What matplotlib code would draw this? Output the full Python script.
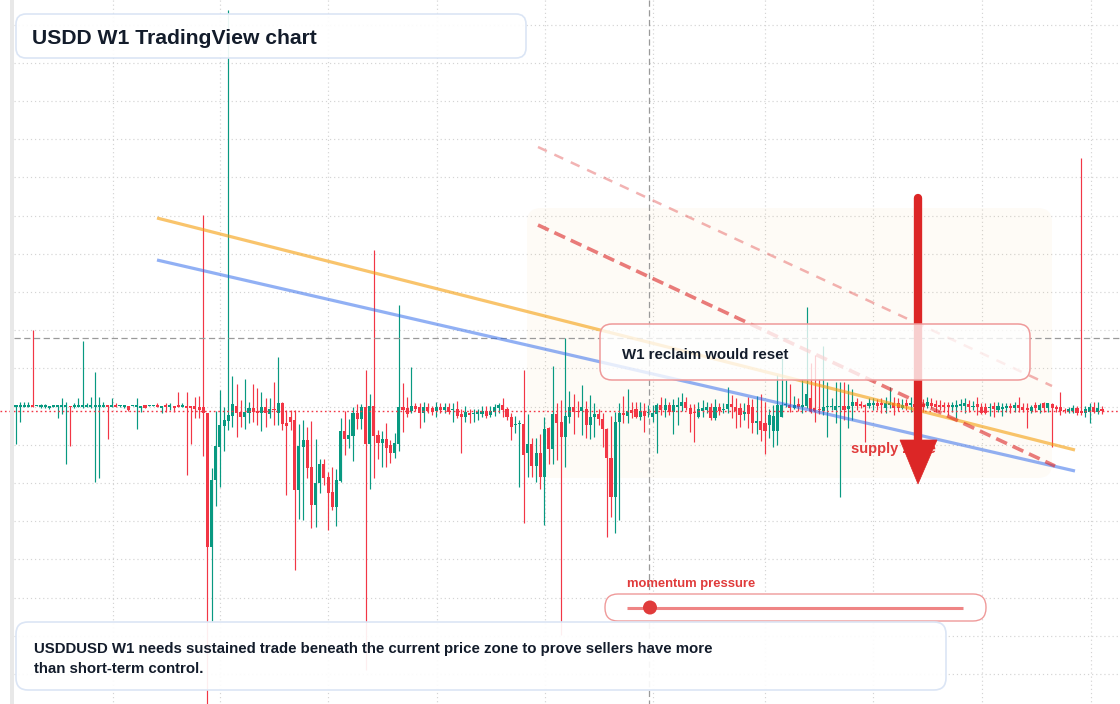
"""USDD weekly candles with the TradingView-style annotations on top."""

import numpy as np
import matplotlib
matplotlib.use("Agg")
from matplotlib import pyplot as plt
from matplotlib.patches import FancyBboxPatch, Rectangle, Polygon, Circle

plt.rcParams["font.family"] = ["Liberation Sans", "DejaVu Sans"]
plt.rcParams["lines.scale_dashes"] = False

# weekly OHLC, oldest first
opens = [
    .9999, .9999, .9999, .9999, 1.0001, 1.0000, .9999, .9999, .9998, .9999,
    .9999, .9999, .9999, 1.0000, .9999, .9999, .9999, .9999, .9999, .9999,
    .9999, .9999, 1.0001, .9999, 1.0001, 1.0000, .9999, 1.0000, 1.0000, .9999,
    .9998, 1.0001, 1.0000, 1.0000, 1.0001, .9998, 1.0001, .9999, 1.0000, 1.0001,
    .9999, 1.0000, 1.0000, 1.0000, .9999, .9999, .9993, .9859, .9926, .9959,
    .9980, .9985, .9990, 1.0000, .9994, .9989, .9993, .9998, .9995, .9993,
    .9999, .9992, .9997, .9993, 1.0003, .9983, .9989, .9986, .9916, .9959,
    .9966, .9939, .9901, .9923, .9942, .9929, .9914, .9899, .9925, .9975,
    .9967, .9970, .9993, .9987, .9999, .9962, 1.0000, .9971, .9963, .9967,
    .9961, .9953, .9962, .9999, .9998, .9995, 1.0000, .9999, .9993, .9999,
    .9998, .9995, .9999, .9996, .9999, .9996, .9997, .9992, .9989, .9993,
    .9992, .9992, .9992, .9995, .9991, .9994, .9998, 1.0001, .9997, .9989,
    .9981, .9982, .9982, .9953, .9962, .9940, .9953, .9929, .9978, .9957,
    .9992, .9984, .9969, .9989, .9999, .9995, .9995, .9997, .9981, .9989,
    .9992, .9987, .9977, .9948, .9909, .9984, .9993, .9990, .9996, .9997,
    .9989, .9995, .9993, .9989, .9992, 1.0001, .9996, 1.0001, .9994, .9999,
    1.0000, 1.0004, .9998, .9994, .9989, .9995, .9996, .9999, .9988, .9999,
    .9996, .9997, 1.0002, .9999, .9998, .9992, 1.0001, .9999, .9983, .9985,
    .9983, .9981, .9975, .9975, .9989, 1.0001, 1.0001, .9998, 1.0002, .9999,
    1.0000, 1.0008, .9998, .9997, .9995, .9999, .9999, .9996, .9999, 1.0000,
    .9997, 1.0000, 1.0004, 1.0002, 1.0001, 1.0000, 1.0001, 1.0003, 1.0003, .9998,
    1.0001, 1.0003, 1.0003, .9998, 1.0003, 1.0001, 1.0002, 1.0000, 1.0002, 1.0000,
    1.0003, 1.0002, 1.0001, 1.0001, 1.0001, .9999, .9999, 1.0000, 1.0000, 1.0002,
    .9999, 1.0002, .9999, .9999, .9998, 1.0000, .9996, .9997, .9998, 1.0000,
    .9998, 1.0001, .9999, .9998, .9995, 1.0001, .9996, 1.0003, .9998, 1.0002,
    .9999, .9999, .9996, .9994, .9995, .9998, .9995, .9993, .9994, .9999,
    .9994, .9997,
]
highs = [
    1.0001, 1.0004, 1.0004, 1.0004, 1.0076, 1.0001, 1.0002, 1.0002, 1.0000, 1.0001,
    1.0001, 1.0008, 1.0004, 1.0000, 1.0003, 1.0008, 1.0065, 1.0003, 1.0009, 1.0034,
    1.0009, 1.0004, 1.0001, 1.0008, 1.0003, 1.0001, 1.0001, 1.0000, 1.0001, 1.0008,
    1.0000, 1.0001, 1.0001, 1.0001, 1.0003, 1.0000, 1.0003, 1.0003, 1.0000, 1.0014,
    1.0003, 1.0014, 1.0000, 1.0009, 1.0010, 1.0191, .9993, .9938, .9995, 1.0016,
    .9999, 1.0396, 1.0030, 1.0022, 1.0006, 1.0027, 1.0004, 1.0022, 1.0018, 1.0014,
    1.0008, 1.0008, 1.0024, 1.0049, 1.0004, .9996, .9996, .9996, .9982, .9986,
    .9979, .9985, .9967, .9947, .9947, .9934, .9939, .9937, .9988, .9995,
    .9987, .9999, 1.0002, 1.0002, 1.0036, 1.0012, 1.0156, .9976, .9975, .9983,
    .9966, .9973, 1.0101, 1.0023, 1.0009, 1.0039, 1.0003, 1.0003, 1.0004, 1.0003,
    1.0000, 1.0004, 1.0003, 1.0003, 1.0003, 1.0003, 1.0005, .9997, 1.0000, .9997,
    .9997, .9997, 1.0000, 1.0000, 1.0000, 1.0002, 1.0003, 1.0008, .9999, .9993,
    .9990, .9986, 1.0036, .9992, .9968, .9968, .9972, .9989, .9979, 1.0040,
    1.0003, 1.0006, 1.0068, 1.0015, 1.0012, 1.0005, 1.0021, 1.0005, 1.0011, 1.0003,
    .9997, .9993, .9978, .9990, .9994, 1.0003, 1.0010, 1.0017, 1.0004, 1.0004,
    1.0004, 1.0003, 1.0001, 1.0001, 1.0003, 1.0009, 1.0008, 1.0004, 1.0007, 1.0009,
    1.0013, 1.0009, 1.0002, 1.0002, 1.0004, 1.0006, 1.0004, 1.0003, 1.0007, 1.0003,
    1.0003, 1.0019, 1.0011, 1.0008, 1.0003, 1.0003, 1.0009, 1.0007, 1.0010, 1.0012,
    1.0004, .9997, 1.0001, 1.0031, 1.0048, 1.0026, 1.0022, 1.0010, 1.0008, 1.0027,
    1.0099, 1.0043, 1.0051, 1.0027, 1.0060, 1.0024, 1.0008, 1.0024, 1.0024, 1.0024,
    1.0022, 1.0017, 1.0008, 1.0005, 1.0002, 1.0008, 1.0008, 1.0007, 1.0008, 1.0009,
    1.0019, 1.0009, 1.0008, 1.0007, 1.0007, 1.0009, 1.0006, 1.0006, 1.0007, 1.0009,
    1.0008, 1.0006, 1.0006, 1.0004, 1.0004, 1.0004, 1.0006, 1.0007, 1.0008, 1.0006,
    1.0005, 1.0009, 1.0003, 1.0003, 1.0003, 1.0004, 1.0004, 1.0003, 1.0003, 1.0003,
    1.0004, 1.0009, 1.0003, 1.0003, 1.0001, 1.0004, 1.0003, 1.0004, 1.0003, 1.0003,
    1.0001, 1.0014, .9998, .9999, 1.0001, 1.0000, 1.0248, 1.0000, 1.0003, 1.0004,
    1.0004, 1.0000,
]
lows = [
    .9962, .9984, .9999, .9999, .9999, 1.0000, .9998, .9998, .9997, .9999,
    .9988, .9992, .9942, .9960, .9998, .9999, .9998, .9999, .9998, .9924,
    .9928, .9999, .9967, .9999, .9999, .9999, .9998, .9995, 1.0000, .9977,
    .9994, .9998, 1.0000, 1.0000, .9999, .9993, .9994, .9996, .9994, .9999,
    .9999, .9931, .9962, .9988, .9988, .9950, .9696, .9785, .9900, .9919,
    .9955, .9976, .9979, .9969, .9979, .9977, .9983, .9984, .9981, .9975,
    .9979, .9988, .9981, .9981, .9976, .9911, .9976, .9836, .9887, .9886,
    .9928, .9878, .9879, .9913, .9921, .9876, .9896, .9880, .9924, .9951,
    .9958, .9945, .9977, .9977, .9736, .9917, .9928, .9947, .9939, .9939,
    .9943, .9948, .9955, .9974, .9989, .9993, .9995, .9978, .9984, .9993,
    .9991, .9989, .9993, .9993, .9992, .9984, .9988, .9953, .9984, .9983,
    .9984, .9986, .9989, .9988, .9989, .9990, .9993, .9989, .9986, .9966,
    .9973, .9919, .9883, .9929, .9929, .9924, .9917, .9881, .9942, .9942,
    .9946, .9771, .9939, .9983, .9972, .9989, .9971, .9968, .9967, .9969,
    .9981, .9959, .9869, .9889, .9873, .9886, .9983, .9983, .9988, .9988,
    .9986, .9974, .9989, .9984, .9953, .9991, .9989, .9991, .9972, .9981,
    .9995, .9996, .9974, .9964, .9988, .9989, .9993, .9986, .9986, .9991,
    .9993, .9993, .9988, .9978, .9979, .9986, .9978, .9973, .9972, .9965,
    .9952, .9968, .9959, .9961, .9989, .9999, .9994, .9997, .9995, .9993,
    .9998, .9993, .9984, .9992, .9991, .9969, .9996, .9983, .9909, .9986,
    .9978, .9986, .9996, .9998, .9964, .9998, .9996, .9996, .9993, .9993,
    .9998, .9991, .9995, .9997, .9996, .9994, .9995, .9996, .9994, .9998,
    .9998, .9994, .9996, .9994, .9991, .9994, .9988, .9996, .9993, .9994,
    .9996, .9991, .9992, .9992, .9990, .9989, .9994, .9990, .9994, .9993,
    .9994, .9994, .9994, .9978, .9993, .9994, .9993, .9994, .9994, .9959,
    .9994, .9991, .9993, .9993, .9993, .9991, .9991, .9989, .9983, .9993,
    .9992, .9992,
]
closes = [
    1.0001, 1.0001, 1.0001, 1.0001, .9999, 1.0001, 1.0001, 1.0001, 1.0000, 1.0001,
    1.0001, 1.0001, 1.0001, .9999, 1.0001, 1.0001, 1.0001, 1.0001, 1.0001, 1.0001,
    1.0001, 1.0001, .9999, 1.0001, .9999, 1.0001, 1.0001, .9996, 1.0001, 1.0001,
    1.0000, .9998, 1.0001, 1.0001, .9999, 1.0000, .9999, 1.0001, .9998, .9999,
    1.0001, .9998, .9998, .9997, .9996, .9993, .9859, .9926, .9960, .9981,
    .9986, .9991, 1.0002, .9993, .9989, .9994, .9998, .9994, .9993, .9999,
    .9993, .9997, .9996, 1.0003, .9982, .9980, .9984, .9916, .9960, .9966,
    .9938, .9901, .9923, .9942, .9928, .9913, .9899, .9926, .9975, .9967,
    .9971, .9993, .9987, .9999, .9962, 1.0000, .9970, .9963, .9967, .9958,
    .9953, .9963, .9999, .9996, .9992, 1.0000, .9997, .9993, .9999, .9995,
    .9994, .9999, .9996, .9999, .9994, .9997, .9990, .9989, .9994, .9991,
    .9993, .9994, .9995, .9990, .9995, .9999, 1.0001, .9996, .9989, .9979,
    .9982, .9983, .9951, .9962, .9940, .9953, .9929, .9977, .9957, .9992,
    .9983, .9969, .9990, .9999, .9994, .9994, .9999, .9981, .9989, .9992,
    .9987, .9977, .9948, .9909, .9984, .9993, .9991, .9995, .9993, .9989,
    .9995, .9990, .9994, .9993, 1.0001, .9996, 1.0001, .9994, 1.0001, 1.0001,
    1.0004, .9998, .9992, .9993, .9997, .9998, .9999, .9988, .9999, .9995,
    .9997, 1.0002, .9999, .9995, .9991, .9994, .9992, .9983, .9985, .9976,
    .9975, .9991, .9990, 1.0001, 1.0001, 1.0002, .9998, 1.0001, .9999, 1.0001,
    1.0012, .9995, .9995, .9996, .9999, 1.0000, 1.0000, 1.0000, 1.0000, .9996,
    1.0000, 1.0004, 1.0000, 1.0000, .9999, 1.0003, 1.0003, 1.0000, 1.0001, 1.0003,
    1.0003, .9998, .9998, 1.0001, 1.0000, 1.0003, .9999, 1.0002, .9999, 1.0004,
    1.0000, .9999, .9999, .9999, .9999, 1.0001, 1.0001, 1.0002, 1.0003, .9999,
    1.0000, .9999, .9993, .9993, .9999, .9997, 1.0000, .9999, 1.0000, .9998,
    1.0001, .9998, .9996, .9996, .9999, .9998, 1.0001, .9998, 1.0003, .9998,
    .9997, .9995, .9995, .9997, .9998, .9993, .9993, .9997, .9999, .9994,
    .9998, .9995,
]

title = "USDD W1 TradingView chart"
callout = "W1 reclaim would reset"
zone_label = "supply zone"
gauge_label = "momentum pressure"
footnote = ["USDDUSD W1 needs sustained trade beneath the current price zone to prove sellers have more",
            "than short-term control."]

GREEN = "#089981"
RED = "#f23645"
INK = "#131c2b"
ALERT = "#dc2626"

W, H = 1120, 704
STEP = (1102 - 16) / (len(opens) - 1)   # px per weekly bar

o, h, l, c = (np.array(v) for v in (opens, highs, lows, closes))
x = np.arange(len(o))

fig = plt.figure(figsize=(W / 100, H / 100), dpi=100)
fig.patch.set_facecolor("white")

# price axes (whole canvas), 1 px = 0.0001
ax = fig.add_axes([0, 0, 1, 1])
ax.set_xlim(-16 / STEP, (W - 16) / STEP)
ax.set_ylim(1 - (H - 406) / 1e4, 1 + 406 / 1e4)
ax.axis("off")

# overlay in pixel coordinates for the drawings
ov = fig.add_axes([0, 0, 1, 1], facecolor="none")
ov.set_xlim(0, W)
ov.set_ylim(H, 0)
ov.axis("off")

# grid
for gy in 406.5 + 38.2 * np.arange(-10, 8):
    ax.plot([14, W], [gy, gy], transform=ov.transData, color="#d4d4d4",
            lw=0.85, ls=(0, (0.85, 2.1)), zorder=0)
for gx in [113, 220, 328, 437, 545, 653, 765, 873, 982, 1091]:
    ax.plot([gx, gx], [0, H], transform=ov.transData, color="#d4d4d4",
            lw=0.85, ls=(0, (0.85, 2.1)), zorder=0)

# faint supply zone
ax.add_patch(FancyBboxPatch((527, 208), 525, 270, boxstyle="round,pad=0,rounding_size=14",
                            transform=ov.transData, facecolor="#f59e0b", alpha=0.035,
                            lw=0, zorder=0.5))

# candles
col = np.where(c >= o, GREEN, RED)
ax.vlines(x, l, h, colors=col, lw=0.85, zorder=3)
ax.bar(x, np.maximum(np.abs(c - o), 0.00012), bottom=np.minimum(o, c), width=0.74,
       color=col, lw=0, zorder=4)

# last price line
ax.axhline(c[-1], color=RED, lw=1.0, ls=(0, (1.2, 2.0)), zorder=5)

# left rail and crosshair
ov.add_patch(Rectangle((10, 0), 4, H, facecolor="#e8e8e8", lw=0, zorder=1))
ov.plot([649, 649], [0, H], color="#9a9a9a", lw=0.9, ls=(0, (4.5, 2.5)), zorder=1)
ov.plot([14, W], [338, 338], color="#9a9a9a", lw=0.9, ls=(0, (4.5, 2.5)), zorder=1)

# trend lines
ov.plot([157, 1075], [218, 450], color="#f59e0b", alpha=0.6, lw=2.3,
        solid_capstyle="butt", zorder=2)
ov.plot([157, 1075], [260, 471], color="#2563eb", alpha=0.5, lw=2.3,
        solid_capstyle="butt", zorder=2)
ov.plot([538, 1055], [225, 466], color=ALERT, alpha=0.6, lw=2.6,
        ls=(0, (8.5, 4.5)), zorder=2)
ov.plot([538, 1052], [147, 386], color=ALERT, alpha=0.35, lw=1.8,
        ls=(0, (7, 6)), zorder=2)

# supply zone label and arrow
ov.text(851, 453, zone_label, color="#e03b3b", fontsize=10.5, fontweight="bold",
        ha="left", va="baseline", zorder=3)
ov.plot([918, 918], [198, 444], color=ALERT, lw=6.0, solid_capstyle="round", zorder=4)
ov.add_patch(Polygon([(900, 440), (937, 440), (918, 484)], closed=True,
                     facecolor=ALERT, edgecolor=ALERT, lw=0.5, zorder=4))

# callout box
ov.add_patch(FancyBboxPatch((600, 324), 430, 56, boxstyle="round,pad=0,rounding_size=12",
                            facecolor=(1, 1, 1, 0.78), edgecolor="#ef9a9a", lw=1.1,
                            zorder=5))
ov.text(622, 359, callout, color=INK, fontsize=10.8, fontweight="bold",
        ha="left", va="baseline", zorder=6)

# title box
ov.add_patch(FancyBboxPatch((16, 14), 510, 44, boxstyle="round,pad=0,rounding_size=10",
                            facecolor=(1, 1, 1, 0.92), edgecolor="#dbe5f5", lw=1.2,
                            zorder=5))
ov.text(31.5, 43.5, title, color=INK, fontsize=15.2, fontweight="bold",
        ha="left", va="baseline", zorder=6)

# momentum gauge
ov.text(627, 587, gauge_label, color="#e03b3b", fontsize=9.4, fontweight="bold",
        ha="left", va="baseline", zorder=6)
ov.add_patch(FancyBboxPatch((605, 594), 381, 27, boxstyle="round,pad=0,rounding_size=13",
                            facecolor="white", edgecolor="#ef9a9a", lw=1.0, zorder=5))
ov.plot([627, 963], [607.5, 607.5], color="#ef8585", lw=2.2, solid_capstyle="butt", zorder=6)
ov.add_patch(Circle((650, 607.5), 7, facecolor="#e03b3b", edgecolor="none", zorder=7))

# footnote box
ov.add_patch(FancyBboxPatch((16, 622), 930, 68, boxstyle="round,pad=0,rounding_size=12",
                            facecolor=(1, 1, 1, 0.92), edgecolor="#dbe5f5", lw=1.2,
                            zorder=5))
for k, line in enumerate(footnote):
    ov.text(34, 653 + 20 * k, line, color=INK, fontsize=10.85, fontweight="bold",
            ha="left", va="baseline", zorder=6)

fig.savefig("out.png", dpi=100)
